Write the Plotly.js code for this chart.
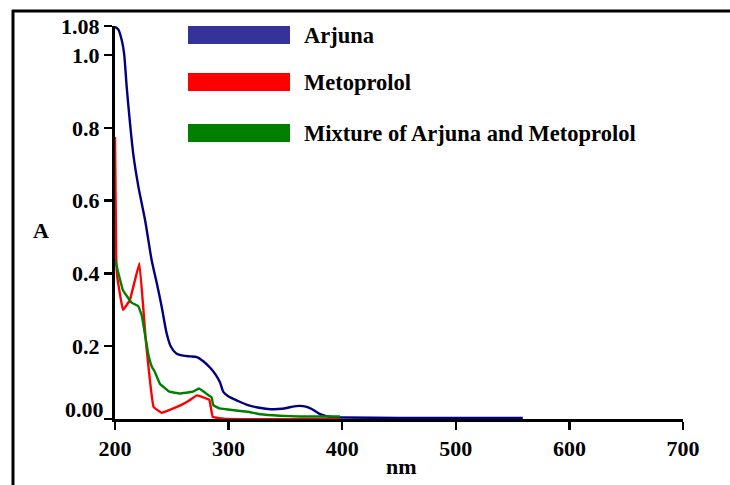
<!DOCTYPE html>
<html>
<head>
<meta charset="utf-8">
<script src="https://cdn.plot.ly/plotly-3.0.1.min.js"></script>
<style>html,body{margin:0;padding:0;background:#fff;}#chart{width:730px;height:485px;}</style>
</head>
<body>
<div id="chart"></div>
<script>
// Arjuna
const arjunaNm = [200, 203, 206, 208, 210.3, 213, 216, 220.5, 226.5, 232.3, 237, 241, 245.5, 249, 254, 260, 266, 272, 278, 284, 289, 292.5, 295.5, 300, 308, 317, 327, 337, 347, 355, 362, 368, 374, 380, 386, 392, 400, 450, 500, 559];
const arjunaA = [1.078, 1.07, 1.04, 1.005, 0.912, 0.82, 0.73, 0.64, 0.546, 0.436, 0.37, 0.31, 0.235, 0.20, 0.18, 0.174, 0.172, 0.17, 0.158, 0.14, 0.12, 0.10, 0.074, 0.062, 0.05, 0.038, 0.031, 0.027, 0.028, 0.033, 0.036, 0.034, 0.026, 0.014, 0.008, 0.005, 0.004, 0.003, 0.003, 0.003];
// Metoprolol
const metoNm = [200, 201, 202, 207, 213, 221.5, 227, 234, 241, 252, 258, 265, 272, 283, 286, 298, 398];
const metoA = [0.775, 0.45, 0.39, 0.30, 0.326, 0.428, 0.22, 0.033, 0.017, 0.03, 0.038, 0.05, 0.065, 0.053, 0.006, 0.0, 0.0];
// Mixture of Arjuna and Metoprolol
const mixNm = [200, 201.5, 207, 214.5, 220.5, 223.5, 229.5, 232.5, 235, 239.5, 248, 257, 268.5, 274, 282, 285, 286.5, 292, 305, 317, 328, 345, 363, 398];
const mixA = [0.44, 0.42, 0.354, 0.32, 0.31, 0.285, 0.175, 0.143, 0.13, 0.097, 0.075, 0.07, 0.075, 0.084, 0.066, 0.06, 0.038, 0.029, 0.024, 0.02, 0.013, 0.009, 0.007, 0.007];

const seriesNames = ['Arjuna', 'Metoprolol', 'Mixture of Arjuna and Metoprolol'];
const lineColors = ['#000080', '#ff0000', '#008000'];
const legendColors = ['#333399', '#ff0000', '#008000'];
const yTickVals = [0, 0.2, 0.4, 0.6, 0.8, 1.0, 1.08];
const yTickText = ['', '0.2', '0.4', '0.6', '0.8', '1.0', '1.08'];
const xTickVals = [200, 300, 400, 500, 600, 700];

const W = 730, H = 485, L = 115, R = 47, T = 26, B = 66;
const pw = W - L - R, ph = H - T - B;
const px = x => (x - L) / pw;
const py = y => (H - B - y) / ph;

const font = {family: '"Liberation Serif", "Times New Roman", serif', size: 22, color: '#000'};
const legFont = {family: '"Liberation Serif", "Times New Roman", serif', size: 22.5, color: '#000'};

const xs = [arjunaNm, metoNm, mixNm];
const ys = [arjunaA, metoA, mixA];
const traces = xs.map((x, i) => ({
  x: x, y: ys[i], type: 'scatter', mode: 'lines', name: seriesNames[i],
  line: {color: lineColors[i], width: 2.4, shape: 'spline', smoothing: i === 0 ? 0.7 : 0.2},
  showlegend: false, hoverinfo: 'skip'
}));

const shapes = [
  // outer frame (top and left)
  {type: 'line', xref: 'paper', yref: 'paper', x0: px(12), x1: px(730), y0: py(11), y1: py(11), line: {color: '#000', width: 3}},
  {type: 'line', xref: 'paper', yref: 'paper', x0: px(13), x1: px(13), y0: py(10), y1: py(490), line: {color: '#000', width: 3}}
];
const legendY = [35, 82, 133];
const annotations = [];
legendY.forEach((cy, i) => {
  shapes.push({type: 'rect', xref: 'paper', yref: 'paper', x0: px(188), x1: px(290), y0: py(cy - 9), y1: py(cy + 9), fillcolor: legendColors[i], line: {width: 0}});
  annotations.push({xref: 'paper', yref: 'paper', x: px(302), y: py(cy), xanchor: 'left', yanchor: 'middle', showarrow: false, text: '<b>' + seriesNames[i] + '</b>', font: legFont});
});
annotations.push({xref: 'paper', yref: 'y', x: px(106), y: 0.026, xanchor: 'right', yanchor: 'middle', showarrow: false, text: '<b>0.00</b>', font: font});
annotations.push({xref: 'paper', yref: 'paper', x: px(41), y: py(231), xanchor: 'center', yanchor: 'middle', showarrow: false, text: '<b>A</b>', font: font});
annotations.push({xref: 'paper', yref: 'paper', x: px(401), y: py(466), xanchor: 'center', yanchor: 'middle', showarrow: false, text: '<b>nm</b>', font: font});

const layout = {
  width: W, height: H,
  margin: {l: L, r: R, t: T, b: B, pad: 0},
  paper_bgcolor: '#fff', plot_bgcolor: '#fff',
  font: font,
  xaxis: {
    range: [200, 700], tickvals: xTickVals, ticktext: xTickVals.map(v => '<b>' + v + '</b>'),
    showgrid: false, zeroline: false, showline: true, linecolor: '#000', linewidth: 3,
    ticks: 'outside', ticklen: 8, tickwidth: 2.5, tickcolor: '#000', tickfont: font
  },
  yaxis: {
    range: [0, 1.08], tickvals: yTickVals, ticktext: yTickText.map(v => v ? '<b>' + v + '</b>' : ''),
    showgrid: false, zeroline: false, showline: true, linecolor: '#000', linewidth: 3,
    ticks: 'outside', ticklen: 8, tickwidth: 2.5, tickcolor: '#000', tickfont: font
  },
  shapes: shapes,
  annotations: annotations,
  showlegend: false
};

Plotly.newPlot('chart', traces, layout, {displayModeBar: false, staticPlot: true});
</script>
</body>
</html>
